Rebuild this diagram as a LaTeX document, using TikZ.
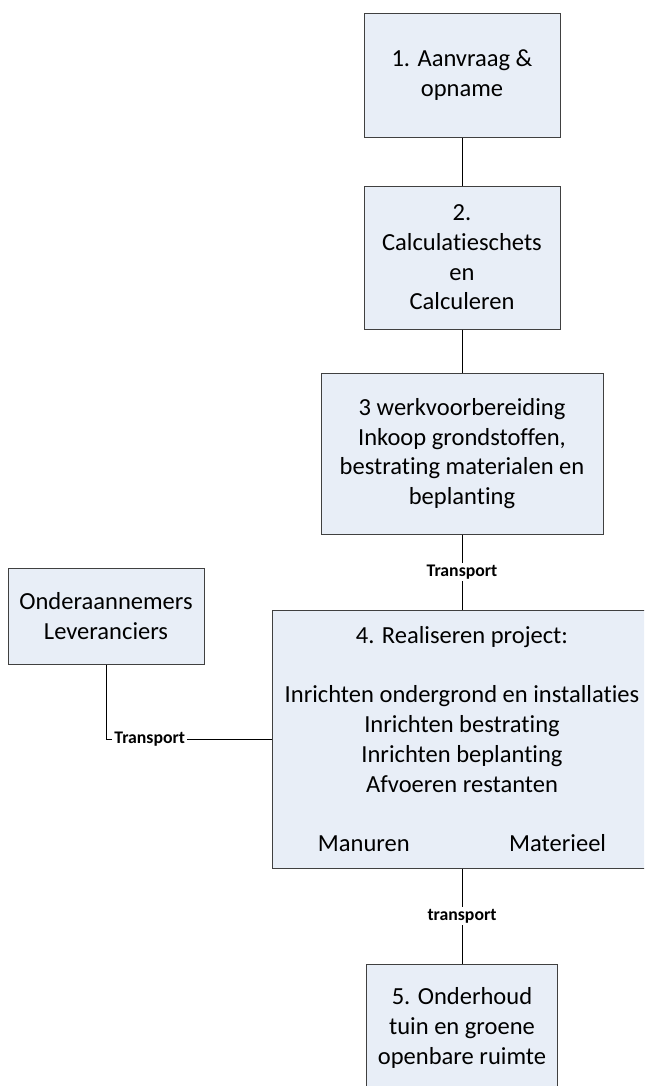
\documentclass[tikz,border=0pt]{standalone}
\usepackage{fontspec}
\setmainfont[Ligatures={NoCommon}]{Carlito}
\definecolor{boxfill}{HTML}{E8EEF7}
\definecolor{boxline}{HTML}{404040}
\begin{document}
\begin{tikzpicture}[x=0.75pt,y=-0.75pt,
  procbox/.style={draw=boxline, line width=0.75pt, fill=boxfill, align=center, inner sep=0pt,
    font=\fontsize{18.4}{22.3}\selectfont},
  conn/.style={draw=black, line width=0.75pt},
  tlabel/.style={fill=white, inner sep=1.5pt, font=\bfseries\fontsize{13.3}{15}\selectfont}]
\clip (0,0) rectangle (644,1086);
\fill[white] (0,0) rectangle (644,1086);

\node[procbox, minimum width=196*0.75pt, minimum height=124*0.75pt] (b1) at (462,75)
  {1. Aanvraag \&\\opname};
\node[procbox, minimum width=196*0.75pt, minimum height=143*0.75pt] (b2) at (462,257.5)
  {2.\\Calculatieschets\\en\\Calculeren};
\node[procbox, minimum width=282*0.75pt, minimum height=161*0.75pt] (b3) at (462,453.5)
  {3 werkvoorbereiding\\Inkoop grondstoffen,\\bestrating materialen en\\beplanting};
\node[procbox, minimum width=380*0.75pt, minimum height=258*0.75pt] (b4) at (462,739)
  {4. Realiseren project:\\~\\Inrichten ondergrond en installaties\\Inrichten bestrating\\Inrichten beplanting\\Afvoeren restanten\\~\\Manuren\hspace{74.6pt}Materieel};
\node[procbox, minimum width=191*0.75pt, minimum height=128*0.75pt] (b5) at (462,1028)
  {5. Onderhoud\\tuin en groene\\openbare ruimte};
\node[procbox, minimum width=196*0.75pt, minimum height=96*0.75pt] (lv) at (106,616)
  {Onderaannemers\\Leveranciers};

\draw[conn] (b1.south) -- (b2.north);
\draw[conn] (b2.south) -- (b3.north);
\draw[conn] (b3.south) -- node[tlabel] (t1) {Transport} (b4.north);
\draw[conn] (b4.south) -- node[tlabel] (t2) {transport} (b5.north);
\draw[conn] (lv.south) |- node[tlabel, pos=0.632] (t3) {Transport} (b4.west);
\end{tikzpicture}
\end{document}
